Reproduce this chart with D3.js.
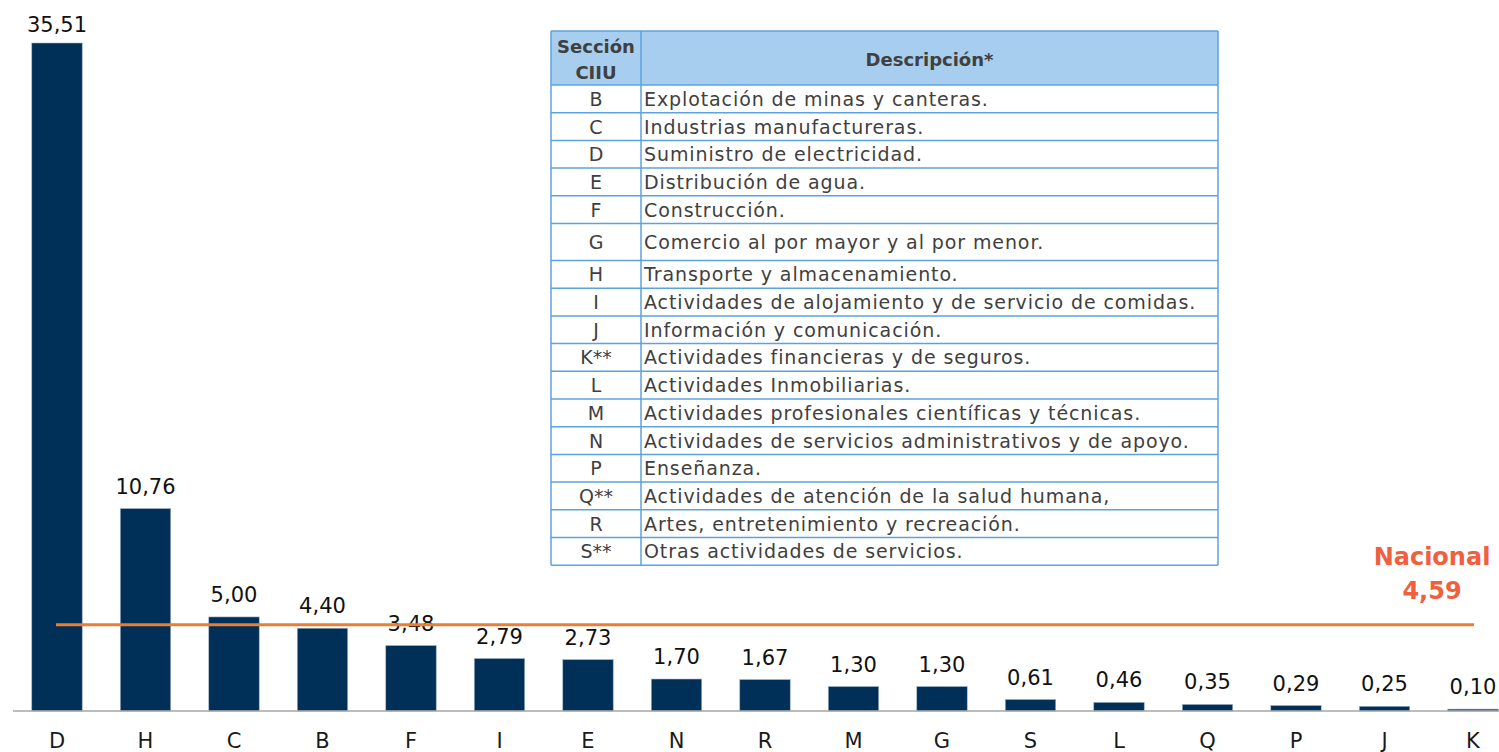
<!DOCTYPE html>
<html>
<head>
<meta charset="utf-8">
<script src="https://cdn.jsdelivr.net/npm/d3@7"></script>
<style>
  html, body { margin: 0; padding: 0; background: #fff; }
  svg { display: block; }
  text { font-family: "DejaVu Sans", sans-serif; }
</style>
</head>
<body>
<svg id="chart" width="1499" height="752"></svg>
<script>
// ---- data ----
const categories = ["D","H","C","B","F","I","E","N","R","M","G","S","L","Q","P","J","K"];
const values = [35.51,10.76,5.00,4.40,3.48,2.79,2.73,1.70,1.67,1.30,1.30,0.61,0.46,0.35,0.29,0.25,0.10];
const nationalValue = 4.59;
const nationalLabel = "Nacional";
const tableCodes = ["B","C","D","E","F","G","H","I","J","K**","L","M","N","P","Q**","R","S**"];
const tableDescriptions = [
  "Explotación de minas y canteras.",
  "Industrias manufactureras.",
  "Suministro de electricidad.",
  "Distribución de agua.",
  "Construcción.",
  "Comercio al por mayor y al por menor.",
  "Transporte y almacenamiento.",
  "Actividades de alojamiento y de servicio de comidas.",
  "Información y comunicación.",
  "Actividades financieras y de seguros.",
  "Actividades Inmobiliarias.",
  "Actividades profesionales científicas y técnicas.",
  "Actividades de servicios administrativos y de apoyo.",
  "Enseñanza.",
  "Actividades de atención de la salud humana,",
  "Artes, entretenimiento y recreación.",
  "Otras actividades de servicios."
];
const tableHeader = ["Sección", "CIIU", "Descripción*"];

const fmt = v => v.toFixed(2).replace(".", ",");

// ---- chart ----
const svg = d3.select("#chart");
const baseY = 711;
const x = d3.scaleBand().domain(categories).range([12.75, 1517.25]).paddingInner(0.43).paddingOuter(0.215);
const y = d3.scaleLinear().domain([0, 35.51]).range([baseY, 43]);

svg.append("g").selectAll("rect").data(categories).join("rect")
  .attr("x", d => x(d))
  .attr("y", (d, i) => y(values[i]))
  .attr("width", x.bandwidth())
  .attr("height", (d, i) => baseY - y(values[i]))
  .attr("fill", "#003057")
  .attr("stroke", "#9fb3c6")
  .attr("stroke-width", 0.6);

// axis
const axis = svg.append("g").attr("transform", `translate(0,${baseY})`)
  .call(d3.axisBottom(x).tickSize(0).tickPadding(22));
axis.select(".domain").attr("stroke", "#a6a6a6").attr("stroke-width", 1.5).attr("d", "M13,0H1499");
axis.selectAll("text").attr("font-size", 21).attr("fill", "#1a1a1a")
  .style("font-family", '"DejaVu Sans", sans-serif');

// value labels
svg.append("g").selectAll("text").data(categories).join("text")
  .attr("x", d => x(d) + x.bandwidth() / 2)
  .attr("y", (d, i) => Math.max(y(values[i]) - 15, 32))
  .attr("text-anchor", "middle")
  .attr("font-size", 21)
  .attr("fill", "#111")
  .text((d, i) => fmt(values[i]));

// national line
const xFirst = x(categories[0]) + x.bandwidth() / 2;
const xLast = x(categories[categories.length - 1]) + x.bandwidth() / 2;
svg.append("line")
  .attr("x1", xFirst - 1).attr("x2", xLast + 1)
  .attr("y1", y(nationalValue)).attr("y2", y(nationalValue))
  .attr("stroke", "#ED7D31").attr("stroke-width", 3);

svg.append("text").attr("x", 1432).attr("y", 565).attr("text-anchor", "middle")
  .attr("font-size", 24).attr("font-weight", "bold").attr("fill", "#F0603F").text(nationalLabel);
svg.append("text").attr("x", 1432).attr("y", 599).attr("text-anchor", "middle")
  .attr("font-size", 24).attr("font-weight", "bold").attr("fill", "#F0603F").text(fmt(nationalValue));

// ---- table ----
const tX0 = 551, tX1 = 641, tX2 = 1218;
const headTop = 31, headBot = 85;
const rowH = 27.7, tallRow = 37;
const rowTops = [];
let cy = headBot;
tableCodes.forEach(c => { rowTops.push(cy); cy += (c === "G" ? tallRow : rowH); });
const tBottom = cy;
const tbl = svg.append("g");
const borderColor = "#5BA3DD";

tbl.append("rect").attr("x", tX0).attr("y", headTop).attr("width", tX2 - tX0).attr("height", headBot - headTop)
  .attr("fill", "#A7CEEF");
tbl.append("rect").attr("x", tX0).attr("y", headBot).attr("width", tX2 - tX0).attr("height", tBottom - headBot)
  .attr("fill", "#fff");

// text
tbl.append("text").attr("x", (tX0 + tX1) / 2).attr("y", 53).attr("text-anchor", "middle")
  .attr("font-size", 18).attr("font-weight", "bold").attr("fill", "#404040").text(tableHeader[0]);
tbl.append("text").attr("x", (tX0 + tX1) / 2).attr("y", 79).attr("text-anchor", "middle")
  .attr("font-size", 18).attr("font-weight", "bold").attr("fill", "#404040").text(tableHeader[1]);
tbl.append("text").attr("x", (tX1 + tX2) / 2).attr("y", 66).attr("text-anchor", "middle")
  .attr("font-size", 18).attr("font-weight", "bold").attr("fill", "#404040").text(tableHeader[2]);

tableCodes.forEach((c, i) => {
  const h = (c === "G" ? tallRow : rowH);
  const mid = rowTops[i] + h / 2 + 7;
  tbl.append("text").attr("x", (tX0 + tX1) / 2).attr("y", mid).attr("text-anchor", "middle")
    .attr("font-size", 19).attr("fill", "#404040").text(c);
  tbl.append("text").attr("x", tX1 + 3).attr("y", mid)
    .attr("font-size", 19).attr("letter-spacing", 0.9).attr("fill", "#404040").text(tableDescriptions[i]);
});

// grid lines
const lines = [headTop, headBot, ...rowTops.slice(1), tBottom];
lines.forEach(ly => tbl.append("line").attr("x1", tX0).attr("x2", tX2).attr("y1", ly).attr("y2", ly)
  .attr("stroke", borderColor).attr("stroke-width", 1.5));
[tX0, tX1, tX2].forEach(lx => tbl.append("line").attr("x1", lx).attr("x2", lx).attr("y1", headTop).attr("y2", tBottom)
  .attr("stroke", borderColor).attr("stroke-width", 1.5));
</script>
</body>
</html>
